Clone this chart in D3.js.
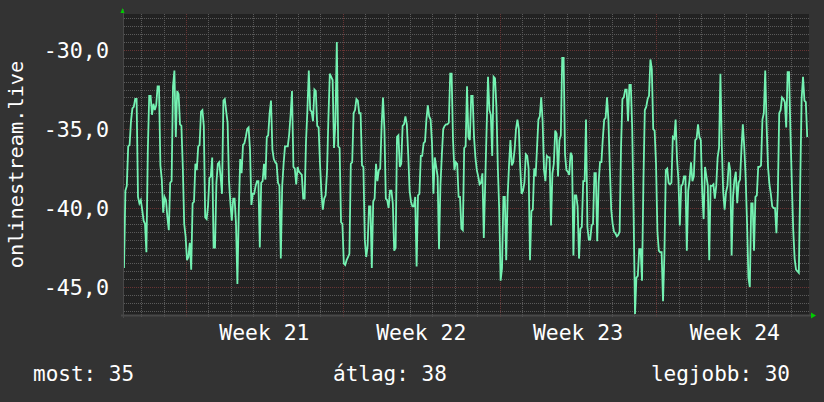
<!DOCTYPE html>
<html>
<head>
<meta charset="utf-8">
<script src="https://cdn.jsdelivr.net/npm/d3@7"></script>
<style>
    html, body { margin: 0; padding: 0; background: #333333; }
    svg { display: block; }
    text { font-family: "DejaVu Sans Mono", monospace; fill: #ffffff; }
</style>
</head>
<body>
<div id="chart"></div>
<script>
const width = 824;
const height = 402;
const margin = { 'top': 14, 'right': 15, 'bottom': 87, 'left': 124 };
const graphWidth = width - margin.left - margin.right;
const graphHeight = height - margin.top - margin.bottom;

// samples every 90 minutes
const startTime = "2024-05-17T05:34";
const stepMinutes = 90;
const values = [
    -43.8, -38.9, -38.6, -36.1, -36.0, -34.5, -33.7, -33.6, -33.1, -33.1,
    -39.3, -39.7, -39.5, -40.1, -40.8, -41.0, -42.8, -36.4, -32.9, -32.9,
    -34.1, -33.4, -33.8, -33.5, -32.3, -32.3, -37.3, -38.2, -40.3, -39.3,
    -39.5, -40.6, -41.4, -38.4, -38.3, -32.3, -31.3, -35.5, -32.6, -32.8,
    -34.7, -34.8, -37.4, -41.0, -41.8, -43.3, -43.1, -42.2, -43.9, -39.7,
    -39.6, -37.2, -37.6, -36.1, -36.0, -33.9, -33.8, -34.8, -40.6, -40.7,
    -39.9, -38.1, -38.0, -36.8, -42.5, -42.5, -38.4, -37.2, -37.1, -38.0,
    -39.1, -33.2, -33.1, -33.9, -34.6, -38.3, -39.7, -40.8, -39.4, -39.4,
    -41.0, -44.8, -40.1, -36.9, -37.8, -36.0, -35.9, -35.5, -35.0, -34.9,
    -36.3, -39.8, -39.1, -39.1, -38.6, -38.3, -38.3, -42.5, -38.4,
    -38.3, -37.2, -38.2, -35.5, -35.4, -34.0, -33.2, -36.3, -36.9, -37.1,
    -37.2, -38.4, -38.6, -43.2, -38.6, -37.2, -36.1, -36.1, -36.1, -35.3,
    -34.1, -32.6, -37.4, -37.5, -38.5, -37.4, -37.7, -37.8, -37.9, -39.4,
    -39.4, -35.8, -33.8, -31.3, -33.8, -33.9, -34.5, -32.5, -32.6, -34.8,
    -34.9, -37.2, -39.0, -40.1, -39.4, -39.2, -37.7, -34.3, -31.5, -31.7,
    -31.9, -36.2, -34.6, -29.5, -36.1, -36.2, -40.9, -41.0, -43.5, -43.6,
    -43.3, -43.1, -42.9, -37.2, -37.1, -34.0, -33.8, -33.1, -33.2, -34.0,
    -34.0, -37.3, -37.4, -42.0, -43.1, -42.4, -39.9, -39.9, -43.8, -39.6,
    -39.4, -37.2, -38.3, -37.6, -37.5, -34.8, -33.0, -35.0, -39.4, -39.5,
    -40.0, -38.9, -38.9, -39.7, -42.7, -42.5, -35.5,
    -35.4, -37.4, -37.2, -34.8, -34.7, -34.2, -34.7, -36.6, -38.9, -39.6,
    -39.9, -39.9, -39.3, -43.7, -39.2, -39.1, -36.7, -36.7, -35.9, -35.8,
    -34.4, -33.5, -34.2, -34.4, -35.9, -39.1, -36.8, -37.4, -38.0, -42.6,
    -38.6, -36.7, -35.0, -34.8, -34.7, -34.7, -34.6, -31.5, -31.5, -35.7,
    -37.6, -37.1, -37.2, -39.3, -39.3, -41.3, -41.4, -36.2, -36.1, -32.3,
    -35.5, -35.7, -32.9, -32.9, -35.5, -36.8, -37.6, -38.0, -38.5, -38.4,
    -37.8, -41.9, -38.4, -35.0, -31.7, -33.8, -34.1, -36.7, -31.7, -31.8,
    -33.6, -37.4, -40.1, -44.6, -43.8, -39.3, -39.3, -43.3, -39.3, -37.3,
    -35.7, -37.3, -37.1, -36.3, -35.0, -34.4, -35.0, -37.4, -39.1, -38.9,
    -38.4, -36.6, -36.7, -37.5, -43.3, -40.2, -40.1, -37.5,
    -38.0, -36.2, -34.4, -34.2, -33.0, -34.5, -37.6, -38.3, -36.7, -36.8,
    -36.8, -41.1, -37.8, -37.2, -35.1, -35.3, -38.0, -35.7, -35.4, -30.5,
    -30.5, -36.6, -37.6, -37.7, -37.9, -36.5, -36.7, -43.0, -39.2, -39.2,
    -39.9, -43.2, -41.3, -41.2, -38.3, -38.3, -34.4, -41.2, -42.0, -42.0,
    -41.1, -41.0, -37.8, -37.8, -42.1, -38.4, -37.1, -37.1, -35.6, -34.4,
    -34.3, -33.0, -34.4, -37.4, -40.1, -41.0, -41.5, -41.6, -41.8, -41.7,
    -41.5, -36.2, -33.1, -33.0, -32.5, -32.5, -34.5, -32.2, -32.2, -35.0,
    -40.4, -46.7, -44.4, -44.3, -42.6, -42.6, -44.6, -38.3, -33.8, -33.6,
    -33.1, -32.9, -30.6, -31.2, -35.0, -35.1, -37.2, -41.5, -42.7, -42.8,
    -42.8, -45.9, -42.9, -37.6, -37.5, -38.4, -38.5, -38.4,
    -35.5, -35.6, -34.4, -36.9, -38.2, -41.1, -38.6, -38.5, -38.0, -38.0,
    -42.7, -38.9, -38.2, -37.1, -38.3, -38.0, -35.7, -35.6, -34.7, -35.5,
    -35.7, -39.0, -40.7, -37.4, -38.0, -38.6, -43.3, -38.6, -38.6, -38.5,
    -39.4, -38.6, -36.8, -36.2, -31.5, -36.1, -39.0, -40.1, -39.0, -38.6,
    -37.1, -37.6, -43.0, -39.3, -38.2, -37.7, -39.7, -38.4, -38.2, -36.3,
    -34.7, -36.1, -38.0, -40.9, -44.4, -45.0, -39.7, -39.7, -42.7, -39.3,
    -39.2, -37.4, -37.4, -37.3, -34.4, -34.0, -31.3, -34.8, -37.4, -38.5,
    -39.1, -39.9, -40.0, -40.0, -41.6, -39.1, -34.0, -33.8, -33.0, -33.1,
    -33.3, -34.9, -31.4, -31.4, -35.1, -38.4, -41.4, -43.2, -43.9, -44.0,
    -44.1, -38.4, -33.1, -31.7, -33.2, -33.3, -35.5
];

const xDomain = ["2024-05-17T05:34", "2024-06-16T19:28"];
const yDomain = [-46.77, -27.72];
const yTicks = [-30, -35, -40, -45];
const weekLabels = ["Week 21", "Week 22", "Week 23", "Week 24"];
const yTitle = "onlinestream.live";
const legendLabels = ["most: 35", "átlag: 38", "legjobb: 30"];

const parseTime = d3.timeParse("%Y-%m-%dT%H:%M");
const t0 = parseTime(startTime);
const data = values.map((v, i) => ({ date: d3.timeMinute.offset(t0, i * stepMinutes), value: v }));

const svg = d3.select('#chart')
    .append('svg')
    .attr('width', width)
    .attr('height', height);

svg.append('rect')
    .attr('width', width)
    .attr('height', height)
    .attr('fill', '#333333');

const graph = svg.append('g')
    .attr('transform', `translate(${margin.left}, ${margin.top})`);

const x = d3.scaleTime()
    .domain(xDomain.map(parseTime))
    .range([0, graphWidth]);

const y = d3.scaleLinear()
    .domain(yDomain)
    .range([graphHeight, 0]);

graph.append('rect')
    .attr('width', graphWidth)
    .attr('height', graphHeight)
    .attr('fill', '#222222');

// minor grid
const minorY = d3.range(-46.5, -27.9, 0.5).filter(v => v % 5 !== 0);
graph.selectAll('.minor-y')
    .data(minorY)
    .enter()
    .append('line')
    .attr('x1', 0)
    .attr('x2', graphWidth)
    .attr('y1', d => Math.round(y(d)) + 0.5)
    .attr('y2', d => Math.round(y(d)) + 0.5)
    .attr('stroke', '#5a5a5a')
    .attr('stroke-dasharray', '1,1');

const days = d3.timeDay.range(x.domain()[0], x.domain()[1]);
const mondays = d3.timeMonday.range(x.domain()[0], x.domain()[1]);
const minorX = days.filter(d => d.getDay() !== 1);

graph.selectAll('.minor-x')
    .data(minorX)
    .enter()
    .append('line')
    .attr('x1', d => Math.round(x(d)) + 0.5)
    .attr('x2', d => Math.round(x(d)) + 0.5)
    .attr('y1', 0)
    .attr('y2', graphHeight + 3)
    .attr('stroke', '#5a5a5a')
    .attr('stroke-dasharray', '1,1');

// major grid
graph.selectAll('.major-y')
    .data(yTicks)
    .enter()
    .append('line')
    .attr('x1', 0)
    .attr('x2', graphWidth)
    .attr('y1', d => Math.round(y(d)) + 0.5)
    .attr('y2', d => Math.round(y(d)) + 0.5)
    .attr('stroke', '#683434')
    .attr('stroke-dasharray', '1,1');

graph.selectAll('.major-x')
    .data(mondays)
    .enter()
    .append('line')
    .attr('x1', d => Math.round(x(d)) + 0.5)
    .attr('x2', d => Math.round(x(d)) + 0.5)
    .attr('y1', 0)
    .attr('y2', graphHeight + 3)
    .attr('stroke', '#683434')
    .attr('stroke-dasharray', '1,1');

// the series
const line = d3.line()
    .x(d => x(d.date))
    .y(d => y(d.value));

graph.append('path')
    .datum(data)
    .attr('d', line)
    .attr('fill', 'none')
    .attr('stroke', '#74f2b2')
    .attr('stroke-width', 1.8)
    .attr('stroke-linejoin', 'miter');

// axes lines and arrows
graph.append('line')
    .attr('x1', -3).attr('x2', graphWidth + 3)
    .attr('y1', graphHeight + 0.5).attr('y2', graphHeight + 0.5)
    .attr('stroke', '#484848')
    .attr('stroke-width', 2);

graph.append('line')
    .attr('x1', -0.5).attr('x2', -0.5)
    .attr('y1', -5).attr('y2', graphHeight + 3)
    .attr('stroke', '#484848')
    .attr('stroke-width', 1);

graph.append('path')
    .attr('d', `M${-3.5},-1 L${0.5},-1 L-1.5,-6 Z`)
    .attr('fill', '#00cc00');

graph.append('path')
    .attr('d', `M${graphWidth + 2},${graphHeight - 2.5} L${graphWidth + 2},${graphHeight + 3.5} L${graphWidth + 7},${graphHeight + 0.5} Z`)
    .attr('fill', '#00cc00');

// y labels
const fmt = d3.formatLocale({ decimal: ',', thousands: '.', grouping: [3], currency: ['', ''], minus: '-' }).format('.1f');

graph.selectAll('.y-label')
    .data(yTicks)
    .enter()
    .append('text')
    .attr('x', -15)
    .attr('y', d => y(d) + 8)
    .attr('text-anchor', 'end')
    .style('font-size', '21.7px')
    .text(d => fmt(d));

// week labels, centered on each week
graph.selectAll('.x-label')
    .data(mondays)
    .enter()
    .append('text')
    .attr('x', d => x(d3.timeHour.offset(d, 84)))
    .attr('y', graphHeight + 25)
    .attr('text-anchor', 'middle')
    .style('font-size', '21.4px')
    .text((d, i) => weekLabels[i]);

// y title
svg.append('text')
    .attr('transform', `translate(23, ${margin.top + graphHeight / 2}) rotate(-90)`)
    .attr('text-anchor', 'middle')
    .style('font-size', '20.3px')
    .text(yTitle);

// summary legend
const legendX = [33, 333, 790];
const legendAnchor = ['start', 'start', 'end'];
svg.selectAll('.legend')
    .data(legendLabels)
    .enter()
    .append('text')
    .attr('x', (d, i) => legendX[i])
    .attr('y', 381)
    .attr('text-anchor', (d, i) => legendAnchor[i])
    .style('font-size', '21px')
    .text(d => d);
</script>
</body>
</html>
